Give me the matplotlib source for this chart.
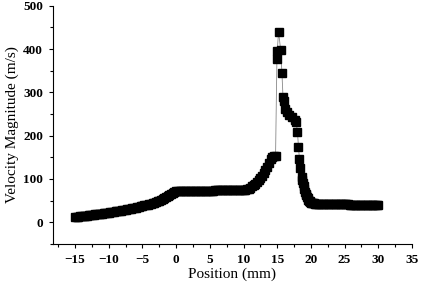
import matplotlib
matplotlib.use('Agg')
import matplotlib.pyplot as plt
from matplotlib.ticker import MultipleLocator

# Position (mm) and velocity magnitude (m/s)
# upstream ramp, -15 .. 0 mm
pos_ramp = [-15, -14.75, -14.5, -14.25, -14, -13.75, -13.5, -13.25, -13, -12.75,
            -12.5, -12.25, -12, -11.75, -11.5, -11.25, -11, -10.75, -10.5, -10.25,
            -10, -9.75, -9.5, -9.25, -9, -8.75, -8.5, -8.25, -8, -7.75,
            -7.5, -7.25, -7, -6.75, -6.5, -6.25, -6, -5.75, -5.5, -5.25,
            -5, -4.75, -4.5, -4.25, -4, -3.75, -3.5, -3.25, -3, -2.75,
            -2.5, -2.25, -2, -1.75, -1.5, -1.25, -1, -0.75, -0.5, -0.25, 0]
vel_ramp = [12, 12.5, 13, 13.5, 14, 14.5, 15, 15.5, 16, 16.5,
            17, 17.5, 18, 18.5, 19, 19.5, 20, 20.5, 21, 21.5,
            22, 22.8, 23.5, 24.2, 25, 25.8, 26.5, 27.2, 28, 28.8,
            29.5, 30.2, 31, 31.8, 32.5, 33.2, 34, 35, 36, 37,
            38, 39, 40, 41, 42, 43, 44, 45.5, 47, 48.5,
            50, 52, 54, 56, 58, 60.5, 63, 65.5, 68, 70.5, 72]

# plateau, 0.25 .. 10 mm
pos_flat = [0.25, 0.5, 0.75, 1, 1.25, 1.5, 1.75, 2, 2.25, 2.5,
            2.75, 3, 3.25, 3.5, 3.75, 4, 4.25, 4.5, 4.75, 5,
            5.25, 5.5, 5.75, 6, 6.25, 6.5, 6.75, 7, 7.25, 7.5,
            7.75, 8, 8.25, 8.5, 8.75, 9, 9.25, 9.5, 9.75, 10]
vel_flat = [72.5, 73, 73, 73, 73, 73, 73, 73, 73, 73,
            73, 73, 73, 73, 73, 73, 73, 73, 73, 73,
            73, 73, 73.5, 73.5, 73.5, 73.5, 74, 74, 74, 74,
            74, 74, 74, 74, 74, 74, 73.5, 73.5, 73.5, 74]

# rise, shock peak and decay, 10.25 .. 21 mm
pos_peak = [10.25, 10.5, 10.75, 11, 11.25, 11.5, 11.75, 12, 12.25, 12.5,
            12.75, 13, 13.25, 13.5, 13.75, 14, 14.25, 14.5, 14.75, 14.95,
            15.0, 15.2, 15.5, 15.7, 15.85, 15.95, 16.1, 16.4, 16.8, 17.2,
            17.6, 17.8, 18.0, 18.15, 18.3, 18.45, 18.6, 18.7, 18.8, 18.9,
            19.0, 19.1, 19.2, 19.3, 19.4, 19.5, 19.6, 19.7, 19.8, 19.9,
            20.0, 20.15, 20.3, 20.45, 20.6, 20.8, 21]
vel_peak = [75, 76, 78, 80, 83, 86, 89, 93, 97, 102,
            107, 113, 120, 128, 138, 146, 151, 153, 154, 376,
            396, 440, 398, 344, 290, 280, 262, 255, 248, 243,
            236, 232, 209, 174, 145, 125, 105, 97, 90, 83,
            76, 71, 66, 62, 58, 55, 52, 50, 48, 46.5,
            45.5, 44.5, 44, 43.5, 43, 42.7, 42.5]

# downstream tail, 21.25 .. 30 mm
pos_tail = [21.25, 21.5, 21.75, 22, 22.25, 22.5, 22.75, 23, 23.25, 23.5,
            23.75, 24, 24.25, 24.5, 24.75, 25, 25.25, 25.5, 25.75, 26,
            26.25, 26.5, 26.75, 27, 27.25, 27.5, 27.75, 28, 28.25, 28.5,
            28.75, 29, 29.25, 29.5, 29.75, 30]
vel_tail = [42.3, 42, 42, 42, 42, 41.8, 41.8, 41.6, 41.6, 41.5,
            41.5, 41.5, 41.4, 41.4, 41.3, 41.2, 41.2, 41.1, 41, 41,
            41, 40.9, 40.9, 40.8, 40.8, 40.7, 40.7, 40.6, 40.6, 40.5,
            40.5, 40.4, 40.3, 40.2, 40.1, 40]

position = pos_ramp + pos_flat + pos_peak + pos_tail
velocity = vel_ramp + vel_flat + vel_peak + vel_tail

plt.rcParams['font.family'] = 'Liberation Serif'

fig = plt.figure(figsize=(4.23, 2.84), dpi=100)
ax = fig.add_axes([0.125, 0.141, 0.849, 0.839])

# squares joined by a thin grey line
ax.plot(position, velocity, color='#888888', linewidth=0.6, marker='s',
        markersize=5.4, markerfacecolor='black', markeredgecolor='black')

ax.set_xlim(-18.3, 35)
ax.set_ylim(-50, 500)
ax.xaxis.set_major_locator(MultipleLocator(5))
ax.xaxis.set_minor_locator(MultipleLocator(2.5))
ax.yaxis.set_major_locator(MultipleLocator(100))
ax.yaxis.set_minor_locator(MultipleLocator(50))
ax.tick_params(which='major', direction='out', length=3, width=0.8,
               labelsize=9.5, pad=4)
ax.tick_params(which='minor', direction='out', length=2, width=0.8)
for lab in ax.get_xticklabels() + ax.get_yticklabels():
    lab.set_fontweight('bold')

ax.spines['top'].set_visible(False)
ax.spines['right'].set_visible(False)

ax.set_xlabel('Position (mm)', fontsize=11, labelpad=1)
ax.set_ylabel('Velocity Magnitude (m/s)', fontsize=11, labelpad=3)

plt.savefig('out.png', dpi=100)
